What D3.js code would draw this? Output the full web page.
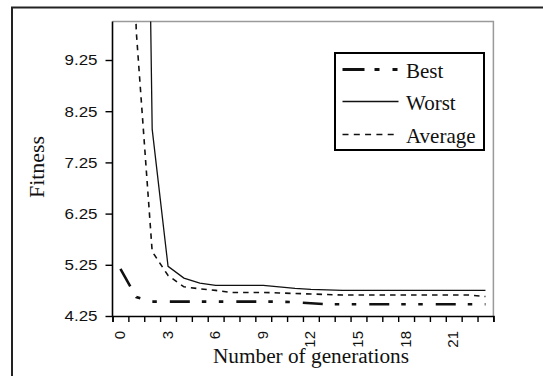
<!DOCTYPE html>
<html>
<head>
<meta charset="utf-8">
<script src="https://cdn.jsdelivr.net/npm/d3@7"></script>
<style>
  body { margin: 0; background: #fff; }
  svg { display: block; }
  .tick-lab { font-family: "Liberation Sans", Arial, sans-serif; font-size: 15px; fill: #111; }
  .serif { font-family: "Liberation Serif", "Times New Roman", serif; fill: #111; }
</style>
</head>
<body>
<div class="visHolder"></div>
<script>
const width = 543;
const height = 376;

// categories on the x axis (generation number)
const generations = [0,1,2,3,4,5,6,7,8,9,10,11,12,13,14,15,16,17,18,19,20,21,22,23];
const xLabels = [0,3,6,9,12,15,18,21];
const yTicks = [4.25,5.25,6.25,7.25,8.25,9.25];

// series (first points run off the top of the chart)
const best = [5.17,4.62,4.53,4.53,4.53,4.53,4.53,4.53,4.53,4.53,4.53,4.52,4.50,4.48,4.48,4.48,4.48,4.48,4.48,4.48,4.48,4.48,4.48,4.48];
const worst = [35,30,7.9,5.22,4.99,4.89,4.85,4.85,4.85,4.85,4.82,4.79,4.77,4.76,4.75,4.75,4.75,4.75,4.75,4.75,4.75,4.75,4.75,4.75];
const average = [20,9.8,5.51,5.04,4.82,4.78,4.75,4.71,4.71,4.71,4.70,4.69,4.68,4.67,4.66,4.66,4.66,4.66,4.66,4.66,4.66,4.66,4.66,4.63];

const seriesNames = ["Best","Worst","Average"];

const plot = {left:112.5, right:493.4, top:21.6, bottom:316};

const svg = d3.select(".visHolder")
  .append("svg")
  .attr("width", width)
  .attr("height", height);

// outer frame (runs off the picture on the right and bottom)
svg.append("rect")
  .attr("x", 12).attr("y", 7.5)
  .attr("width", 560).attr("height", 400)
  .attr("fill", "none")
  .attr("stroke", "#222")
  .attr("stroke-width", 2);

const xScale = d3.scaleBand()
  .domain(generations)
  .range([plot.left, plot.right]);

const xEdge = d3.scaleLinear()
  .domain([0, generations.length])
  .range([plot.left, plot.right]);

const yScale = d3.scaleLinear()
  .domain([4.25, 10])
  .range([plot.bottom, plot.top]);

// plot area border: grey top/right
svg.append("path")
  .attr("d", `M${plot.left},${plot.top}H${plot.right}V${plot.bottom}`)
  .attr("fill", "none")
  .attr("stroke", "#9a9a9a")
  .attr("stroke-width", 1.5);

svg.append("clipPath").attr("id", "clip")
  .append("rect")
  .attr("x", plot.left).attr("y", plot.top)
  .attr("width", plot.right - plot.left)
  .attr("height", plot.bottom - plot.top);

const cx = (d, i) => xScale(generations[i]) + xScale.bandwidth() / 2;
const line = d3.line().x((d, i) => cx(d, i)).y(d => yScale(d));

const g = svg.append("g").attr("clip-path", "url(#clip)");

g.append("path").datum(average)
  .attr("d", line)
  .attr("fill", "none")
  .attr("stroke", "#111")
  .attr("stroke-width", 1.6)
  .attr("stroke-dasharray", "5.5,5");

g.append("path").datum(worst)
  .attr("d", line)
  .attr("fill", "none")
  .attr("stroke", "#111")
  .attr("stroke-width", 1.3);

g.append("path").datum(best)
  .attr("d", line)
  .attr("fill", "none")
  .attr("stroke", "#111")
  .attr("stroke-width", 2.6)
  .attr("stroke-dasharray", "20,12,4.5,12.5,4.5,13");

// x axis: ticks at category edges
svg.append("g")
  .attr("transform", `translate(0,${plot.bottom})`)
  .call(d3.axisBottom(xEdge).tickValues(d3.range(generations.length + 1)).tickSize(6).tickFormat(""))
  .call(a => a.select(".domain").attr("stroke-width", 1.6).attr("stroke", "#000"))
  .call(a => a.selectAll(".tick line").attr("stroke-width", 1.4));

// x labels at category centres, rotated
svg.append("g")
  .attr("transform", `translate(0,${plot.bottom})`)
  .call(d3.axisBottom(xScale).tickValues(xLabels).tickSize(0).tickPadding(0))
  .call(a => a.select(".domain").remove())
  .call(a => a.selectAll("text")
    .attr("class", "tick-lab")
    .attr("font-size", null).attr("font-family", null)
    .attr("text-anchor", "end")
    .attr("transform", "rotate(-90)")
    .attr("x", -15)
    .attr("y", 0)
    .attr("dy", "0.3em")
    .attr("dx", 0));

// y axis
svg.append("g")
  .attr("transform", `translate(${plot.left},0)`)
  .call(d3.axisLeft(yScale).tickValues(yTicks).tickSize(7).tickPadding(8).tickFormat(d3.format(".2f")))
  .call(a => a.select(".domain").attr("stroke-width", 1.6).attr("stroke", "#000")
     .attr("d", `M0,${plot.top}V${plot.bottom}`))
  .call(a => a.selectAll(".tick line").attr("stroke-width", 1.4))
  .call(a => a.selectAll("text")
    .attr("class", "tick-lab")
    .attr("font-size", null).attr("font-family", null)
    .attr("textLength", 33)
    .attr("lengthAdjust", "spacingAndGlyphs"));

// axis titles
svg.append("text")
  .attr("class", "serif")
  .attr("x", 311).attr("y", 363)
  .attr("text-anchor", "middle")
  .attr("font-size", 20)
  .attr("textLength", 196)
  .attr("lengthAdjust", "spacingAndGlyphs")
  .text("Number of generations");

svg.append("text")
  .attr("class", "serif")
  .attr("transform", "translate(44,167) rotate(-90)")
  .attr("text-anchor", "middle")
  .attr("font-size", 20)
  .attr("textLength", 62)
  .attr("lengthAdjust", "spacingAndGlyphs")
  .text("Fitness");

// legend
const legend = svg.append("g");
legend.append("rect")
  .attr("x", 335).attr("y", 53)
  .attr("width", 149).attr("height", 97)
  .attr("fill", "#fff")
  .attr("stroke", "#000")
  .attr("stroke-width", 2);

const legendY = [69.5, 101.5, 134.5];
const legendStyle = [
  {w: 3, dash: "22,10,5,13,5,13"},
  {w: 1.3, dash: null},
  {w: 1.6, dash: "6,5.3"}
];
seriesNames.forEach((name, i) => {
  legend.append("line")
    .attr("x1", 342.5).attr("x2", 398.5)
    .attr("y1", legendY[i]).attr("y2", legendY[i])
    .attr("stroke", "#111")
    .attr("stroke-width", legendStyle[i].w)
    .attr("stroke-dasharray", legendStyle[i].dash);
  legend.append("text")
    .attr("class", "serif")
    .attr("x", 406).attr("y", legendY[i] + 8)
    .attr("font-size", 21)
    .text(name);
});
</script>
</body>
</html>
